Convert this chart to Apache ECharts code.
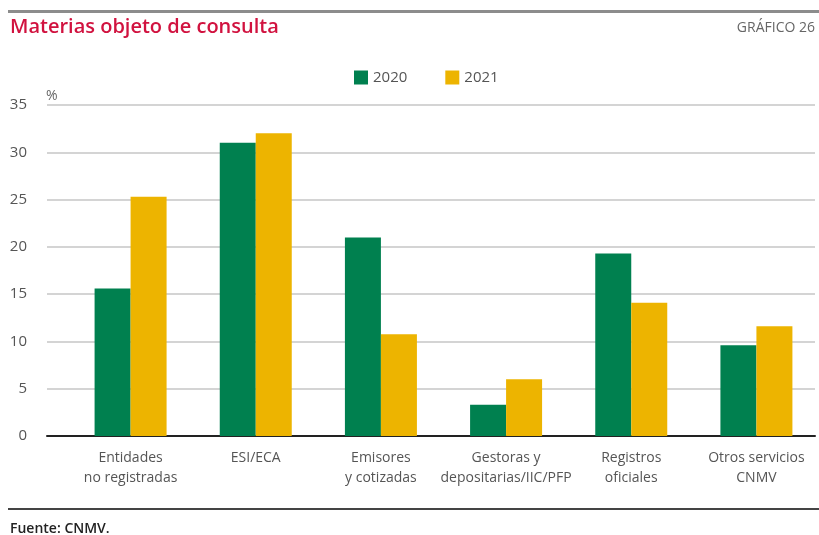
<!DOCTYPE html>
<html>
<head>
<meta charset="utf-8">
<script src="https://cdn.jsdelivr.net/npm/echarts@6/dist/echarts.min.js"></script>
<style>
html,body{margin:0;padding:0;background:#fff;}
#c{width:819px;height:535px;}
</style>
</head>
<body>
<div id="c"></div>
<script>
var categories = ['Entidades\nno registradas', 'ESI/ECA', 'Emisores\ny cotizadas', 'Gestoras y\ndepositarias/IIC/PFP', 'Registros\noficiales', 'Otros servicios\nCNMV'];
var seriesNames = ['2020', '2021'];
var values2020 = [15.6, 31.0, 21.0, 3.3, 19.3, 9.6];
var values2021 = [25.3, 32.0, 10.75, 6.0, 14.1, 11.6];
var yTicks = {min: 0, max: 35, interval: 5};

var FONT = '"Open Sans", sans-serif';
var chart = echarts.init(document.getElementById('c'), null, {renderer: 'canvas'});
chart.setOption({
  animation: false,
  backgroundColor: '#fff',
  color: ['#00804f', '#edb400'],
  graphic: [
    {type: 'rect', shape: {x: 8, y: 10, width: 811, height: 3}, style: {fill: '#8c8c8c'}},
    {type: 'text', left: 10, top: 17, style: {text: 'Materias objeto de consulta', fill: '#d1123f', font: '600 20px "Open Sans", sans-serif'}},
    {type: 'text', right: 4, top: 21, style: {text: 'GRÁFICO 26', fill: '#666', font: '14px "Open Sans", sans-serif'}},
    {type: 'text', left: 46, top: 89, style: {text: '%', fill: '#666', font: '14px "Open Sans", sans-serif'}},
    {type: 'rect', shape: {x: 8, y: 508, width: 811, height: 2}, style: {fill: '#444'}},
    {type: 'text', left: 10, top: 522, style: {text: 'Fuente: CNMV.', fill: '#222', font: '600 14px "Open Sans", sans-serif'}}
  ],
  legend: {
    data: seriesNames,
    top: 65,
    left: 349,
    itemWidth: 14,
    itemHeight: 14,
    itemGap: 38,
    icon: 'rect',
    textStyle: {color: '#555', fontSize: 15, fontFamily: FONT}
  },
  grid: [
    {left: 47, right: 4, top: 105, bottom: 99},
    {left: 68, right: 0, top: 105, bottom: 99}
  ],
  xAxis: [
    {gridIndex: 0, type: 'category', data: categories, axisLine: {show: true, lineStyle: {color: '#222', width: 2}}, axisTick: {show: false}, axisLabel: {show: false}},
    {gridIndex: 1, type: 'category', data: categories, axisLine: {show: false}, axisTick: {show: false},
     axisLabel: {color: '#555', fontSize: 14, fontFamily: FONT, lineHeight: 20, margin: 12, interval: 0}}
  ],
  yAxis: [
    {gridIndex: 0, type: 'value', min: yTicks.min, max: yTicks.max, interval: yTicks.interval,
     axisLine: {show: false}, axisTick: {show: false},
     axisLabel: {color: '#555', fontSize: 15, fontFamily: FONT, margin: 20},
     splitLine: {lineStyle: {color: '#d4d4d4', width: 2}}},
    {gridIndex: 1, type: 'value', min: yTicks.min, max: yTicks.max, interval: yTicks.interval, show: false, splitLine: {show: false}}
  ],
  series: [
    {name: seriesNames[0], type: 'bar', xAxisIndex: 1, yAxisIndex: 1, data: values2020, barWidth: 36, barGap: '0%'},
    {name: seriesNames[1], type: 'bar', xAxisIndex: 1, yAxisIndex: 1, data: values2021, barWidth: 36, barGap: '0%'}
  ]
});
</script>
</body>
</html>
